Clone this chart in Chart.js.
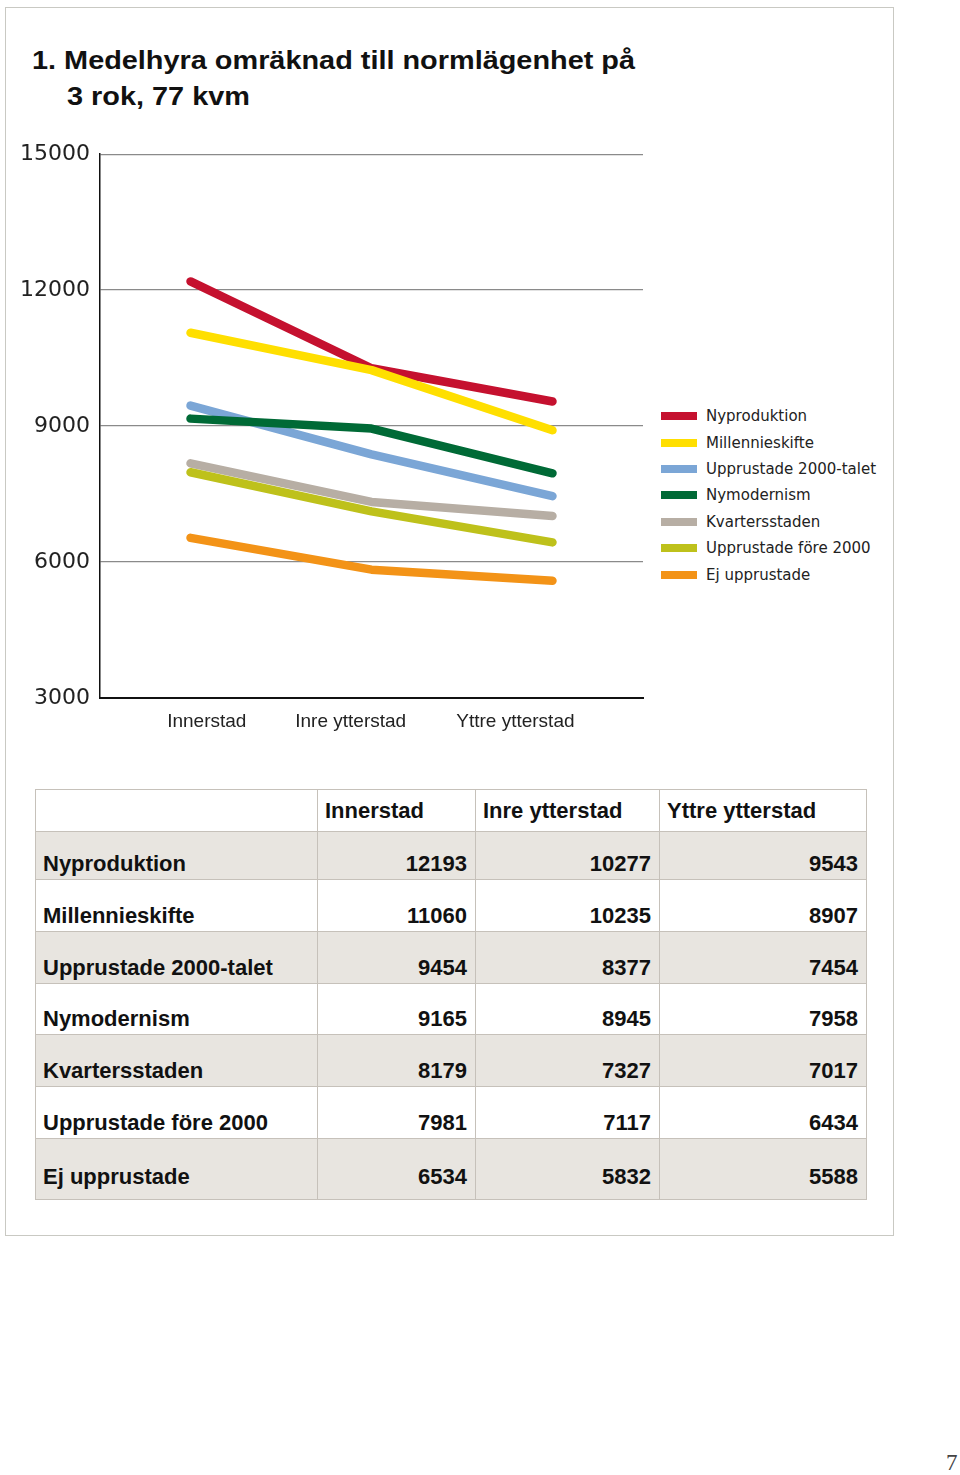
<!DOCTYPE html>
<html><head><meta charset="utf-8">
<script src="https://cdn.jsdelivr.net/npm/chart.js@4/dist/chart.umd.min.js"></script>
<style>
html,body{margin:0;padding:0;background:#fff;}
body{width:960px;height:1475px;position:relative;overflow:hidden;font-family:"Liberation Sans",sans-serif;color:#111;}
#frame{position:absolute;left:5px;top:7px;width:889px;height:1229px;border:1px solid #c9c9c3;box-sizing:border-box;}
.title{position:absolute;font:bold 26px "Liberation Sans";line-height:35px;color:#111;white-space:nowrap;transform-origin:0 0;}
#chartbox{position:absolute;left:0;top:131px;width:650px;height:620px;}
#legend{position:absolute;left:661px;top:403px;}
.lrow{height:26.4px;display:flex;align-items:center;font:15px "DejaVu Sans";color:#222;white-space:nowrap;}
.lsw{width:36px;height:8px;margin-right:9px;}
table{position:absolute;left:35px;top:789px;width:831px;border-collapse:collapse;table-layout:fixed;font:bold 22px "Liberation Sans";color:#111;}
td{border:1px solid #c6c1ba;padding:0 8px 5px 7px;vertical-align:bottom;line-height:20px;white-space:nowrap;}
td.num{text-align:right;}
tr.head td{vertical-align:middle;padding-bottom:0;background:#fff;}
tr.shade td{background:#e8e5e0;}
tr.last td{padding-bottom:12px;}
#page{position:absolute;left:946px;top:1450px;font:23px "Liberation Serif",serif;color:#444;}
</style>
</head>
<body>
<div id="frame"></div>
<div class="title" id="t1" style="left:32px;top:43px;">1. Medelhyra omräknad till normlägenhet på</div>
<div class="title" id="t2" style="left:67px;top:79px;">3 rok, 77 kvm</div>
<div id="chartbox"><canvas id="c" width="650" height="620"></canvas></div>
<div id="legend"></div>
<table id="tbl"></table>
<div id="page">7</div>
<script>
const categories = ['Innerstad', 'Inre ytterstad', 'Yttre ytterstad'];
const seriesNames = ['Nyproduktion', 'Millennieskifte', 'Upprustade 2000-talet', 'Nymodernism', 'Kvartersstaden', 'Upprustade före 2000', 'Ej upprustade'];
const nyproduktion = [12193, 10277, 9543];
const millennieskifte = [11060, 10235, 8907];
const upprustade2000talet = [9454, 8377, 7454];
const nymodernism = [9165, 8945, 7958];
const kvartersstaden = [8179, 7327, 7017];
const upprustadeFore2000 = [7981, 7117, 6434];
const ejUpprustade = [6534, 5832, 5588];
const yTicks = [3000, 6000, 9000, 12000, 15000];
const seriesValues = [nyproduktion, millennieskifte, upprustade2000talet, nymodernism, kvartersstaden, upprustadeFore2000, ejUpprustade];
const colors = ['#c5112f', '#ffdf00', '#7ba6d6', '#006a36', '#b7aea4', '#bec11b', '#f39317'];

// title width fit (horizontal stretch like the original typesetting)
const t1 = document.getElementById('t1'), t2 = document.getElementById('t2');
const sx = 603 / t1.getBoundingClientRect().width;
t1.style.transform = 'scaleX(' + sx + ')';
t2.style.transform = 'scaleX(' + sx + ')';

// legend
const lg = document.getElementById('legend');
seriesNames.forEach((n, i) => {
  const r = document.createElement('div'); r.className = 'lrow';
  const s = document.createElement('div'); s.className = 'lsw'; s.style.background = colors[i];
  const t = document.createElement('span'); t.textContent = n;
  r.appendChild(s); r.appendChild(t); lg.appendChild(r);
});

// table
const tbl = document.getElementById('tbl');
const colW = [282, 158, 184, 207];
const cg = document.createElement('colgroup');
colW.forEach(w => { const c = document.createElement('col'); c.style.width = w + 'px'; cg.appendChild(c); });
tbl.appendChild(cg);
const rowH = [48, 52, 52, 51, 52, 52, 61];
const hr = document.createElement('tr'); hr.className = 'head'; hr.style.height = '42px';
['', ...categories].forEach(h => { const td = document.createElement('td'); td.textContent = h; hr.appendChild(td); });
tbl.appendChild(hr);
seriesNames.forEach((n, i) => {
  const tr = document.createElement('tr');
  tr.style.height = rowH[i] + 'px';
  if (i % 2 === 0) tr.classList.add('shade');
  if (i === seriesNames.length - 1) tr.classList.add('last');
  const td0 = document.createElement('td'); td0.textContent = n; tr.appendChild(td0);
  seriesValues[i].forEach(v => { const td = document.createElement('td'); td.className = 'num'; td.textContent = v; tr.appendChild(td); });
  tbl.appendChild(tr);
});

// chart
const N = seriesNames.length;
const datasets = seriesNames.map((n, i) => ({
  label: n,
  data: seriesValues[i],
  borderColor: colors[i],
  backgroundColor: colors[i],
  borderWidth: 8.5,
  borderCapStyle: 'round',
  borderJoinStyle: 'round',
  pointRadius: 0,
  pointHoverRadius: 0,
  tension: 0,
  fill: false,
  order: N - 1 - i,
  xAxisID: 'x'
}));
const labelPos = [0.59, 1.385, 2.295];
new Chart(document.getElementById('c'), {
  type: 'line',
  data: { labels: categories, datasets },
  options: {
    responsive: false,
    animation: false,
    events: [],
    layout: { padding: { top: 23, right: 7, bottom: 6, left: 0 } },
    plugins: { legend: { display: false }, tooltip: { enabled: false } },
    scales: {
      x: {
        type: 'category', position: 'bottom', offset: true, weight: 0,
        grid: { display: false, drawTicks: false },
        border: { display: true, color: '#111', width: 2 },
        ticks: { display: false },
        afterFit: s => { s.height = 0; }
      },
      xl: {
        type: 'linear', position: 'bottom', weight: 1, min: 0, max: 3,
        grid: { display: false, drawTicks: false },
        border: { display: false },
        afterBuildTicks: a => { a.ticks = labelPos.map(v => ({ value: v })); },
        ticks: {
          autoSkip: false, maxRotation: 0, padding: 12,
          color: '#222', font: { family: 'Liberation Sans', size: 19 },
          callback: (v, i) => categories[i]
        },
        afterFit: s => { s.height = 47; }
      },
      y: {
        min: yTicks[0], max: yTicks[yTicks.length - 1],
        afterBuildTicks: a => { a.ticks = yTicks.map(v => ({ value: v })); },
        grid: { color: '#8a8a8a', lineWidth: 1.3, drawTicks: false },
        border: { display: true, color: '#111', width: 1.5 },
        ticks: { padding: 10, color: '#222', font: { family: 'DejaVu Sans', size: 22 }, callback: v => String(v) },
        afterFit: s => { s.width = 100; }
      }
    }
  }
});
</script>
</body></html>
